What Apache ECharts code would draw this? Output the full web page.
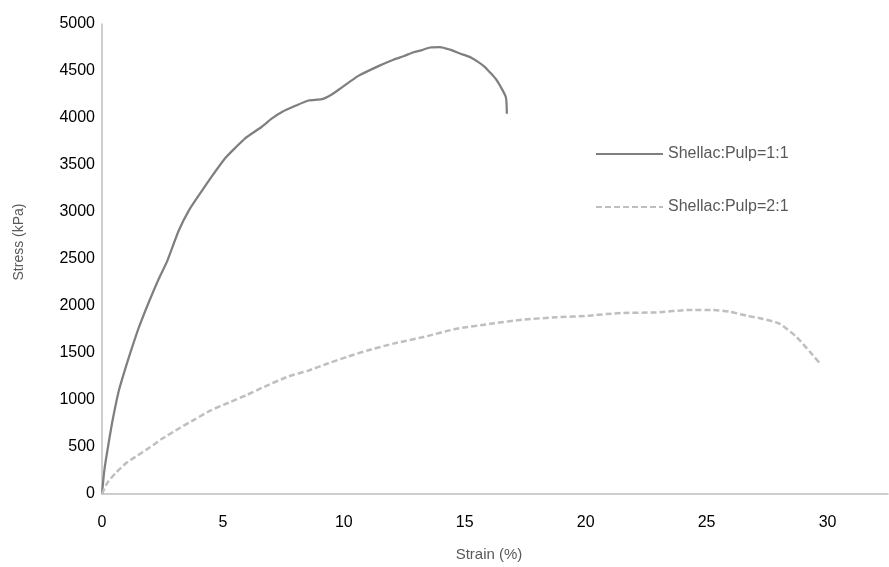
<!DOCTYPE html>
<html>
<head>
<meta charset="utf-8">
<script src="https://cdn.jsdelivr.net/npm/echarts@6/dist/echarts.min.js"></script>
<style>
  html, body { margin: 0; padding: 0; background: #fff; }
  #chart { width: 889px; height: 567px; }
</style>
</head>
<body>
<div id="chart"></div>
<script>
// Shellac:Pulp=1:1 (solid)
var strain1 = [0, 0.1, 0.27, 0.45, 0.69, 0.9, 1.1, 1.51, 1.93, 2.34, 2.7, 3.17, 3.6, 4.13, 4.6, 5.1, 5.5, 5.92, 6.61, 7.0, 7.44, 8.0, 8.54, 9.09, 9.5, 9.92, 10.6, 11.43, 12.05, 12.5, 12.88, 13.2, 13.57, 13.98, 14.39, 14.8, 15.2, 15.5, 15.8, 16.05, 16.3, 16.46, 16.7, 16.74];
var stress1 = [0, 260, 535, 800, 1093, 1280, 1446, 1761, 2037, 2285, 2480, 2800, 3020, 3225, 3400, 3574, 3680, 3784, 3907, 3990, 4064, 4130, 4186, 4200, 4250, 4326, 4448, 4552, 4620, 4660, 4700, 4720, 4750, 4755, 4727, 4686, 4650, 4605, 4550, 4483, 4410, 4343, 4221, 4046];

// Shellac:Pulp=2:1 (dashed)
var strain2 = [0, 0.2, 0.55, 1.0, 1.38, 2.0, 2.48, 3.2, 3.86, 4.5, 5.23, 6.0, 6.61, 7.71, 8.5, 9.36, 10.2, 11.02, 12.05, 13.29, 14.67, 16.05, 17.42, 18.8, 20.18, 20.87, 21.55, 22.93, 24.24, 25.27, 25.96, 26.65, 27.34, 28.03, 28.72, 29.27, 29.68];
var stress2 = [0, 110, 220, 330, 395, 500, 587, 700, 797, 890, 971, 1055, 1129, 1251, 1310, 1391, 1465, 1530, 1600, 1670, 1758, 1810, 1855, 1880, 1897, 1915, 1926, 1932, 1957, 1957, 1939, 1897, 1862, 1810, 1670, 1513, 1391];

var seriesNames = ['Shellac:Pulp=1:1', 'Shellac:Pulp=2:1'];

function pairs(xs, ys) {
    var res = [];
    for (var i = 0; i < xs.length; i++) {
        res.push([xs[i], ys[i]]);
    }
    return res;
}

var font = 'Liberation Sans, Arial, sans-serif';

var mychart = echarts.init(document.getElementById('chart'));
var option = {
    animation: false,
    textStyle: { fontFamily: font },
    grid: { left: 102, right: 1, top: 24, bottom: 66 },
    legend: {
        orient: 'vertical',
        left: 595,
        top: 146,
        padding: 0,
        itemWidth: 67,
        itemHeight: 16,
        itemGap: 37,
        itemStyle: { opacity: 0 },
        textStyle: { fontSize: 16, color: '#595959' },
        data: seriesNames
    },
    xAxis: {
        type: 'value',
        min: 0,
        max: 32.5,
        interval: 5,
        name: 'Strain (%)',
        nameLocation: 'middle',
        nameGap: 53,
        nameTextStyle: { fontSize: 15, color: '#595959', padding: [0, 12, 0, 0] },
        axisLine: { lineStyle: { color: '#bfbfbf', width: 1.5 } },
        axisTick: { show: false },
        axisLabel: { fontSize: 16, color: '#000', margin: 21, showMaxLabel: false },
        splitLine: { show: false }
    },
    yAxis: {
        type: 'value',
        min: 0,
        max: 5000,
        interval: 500,
        name: 'Stress (kPa)',
        nameLocation: 'middle',
        nameGap: 76,
        nameTextStyle: { fontSize: 14, color: '#595959', padding: [0, 0, 0, 34] },
        axisLine: { show: true, lineStyle: { color: '#bfbfbf', width: 1.5 } },
        axisTick: { show: false },
        axisLabel: {
            fontSize: 16,
            color: '#000',
            margin: 7,
            formatter: function (v) { return String(v); }
        },
        splitLine: { show: false }
    },
    series: [
        {
            name: seriesNames[0],
            type: 'line',
            symbol: 'none',
            smooth: 0.2,
            data: pairs(strain1, stress1),
            lineStyle: { color: '#7f7f7f', width: 2.25 },
            itemStyle: { color: '#7f7f7f' }
        },
        {
            name: seriesNames[1],
            type: 'line',
            symbol: 'none',
            smooth: 0.2,
            data: pairs(strain2, stress2),
            lineStyle: { color: '#bfbfbf', width: 2.5, type: [6, 3] },
            itemStyle: { color: '#bfbfbf' }
        }
    ]
};
mychart.setOption(option);
</script>
</body>
</html>
